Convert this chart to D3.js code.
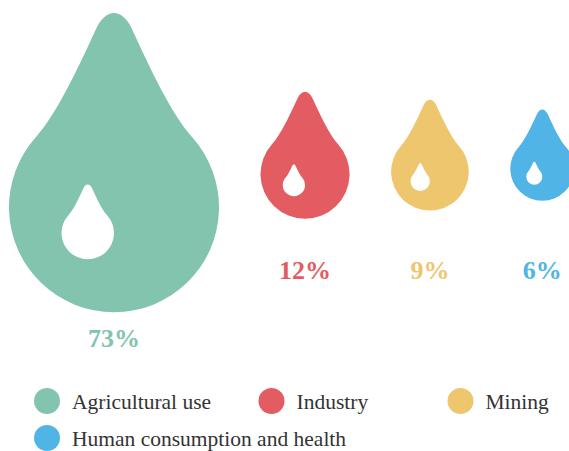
<!DOCTYPE html>
<html>
<head>
<meta charset="utf-8">
<script src="https://cdn.jsdelivr.net/npm/d3@7"></script>
<style>
  html, body { margin: 0; padding: 0; background: #fff; }
  svg { display: block; }
</style>
</head>
<body>
<svg width="569" height="451"></svg>
<script>
// data
const categories = ["Agricultural use", "Industry", "Mining", "Human consumption and health"];
const shares = [73, 12, 9, 6];
const colors = ["#82c4ad", "#e35c61", "#eec66e", "#50b5e6"];

const width = 569,
  height = 451;
const svg = d3.select("svg");

// drop size grows a bit slower than the share
const rScale = d3.scalePow().exponent(0.475).domain([0, d3.max(shares)]).range([0, 105]);

const tipH = 1.86; // tip height above circle centre, in radii
const midY = 155,
  topMin = 12,
  gap = 41.5;

// unit drop: circle of radius 1 at (0,0), tip pointing up
function dropPath() {
  const p = d3.path();
  const px = 0.743, py = -0.669;
  const tx = 0.669, ty = -0.743; // tangent where the side leaves the circle
  const ex = 0.17, ey = -1.70;
  const dx = 0.42, dy = -0.91;
  const k = 0.3, m = 0.4, t = 0.22;
  p.moveTo(-px, py);
  p.bezierCurveTo(-px + k * tx, py + k * ty, -ex - m * dx, ey - m * dy, -ex, ey);
  p.bezierCurveTo(-ex + t * dx, ey + t * dy, ex - t * dx, ey + t * dy, ex, ey);
  p.bezierCurveTo(ex + m * dx, ey - m * dy, px - k * tx, py + k * ty, px, py);
  p.arc(0, 0, 1, Math.atan2(py, px), Math.atan2(py, -px) + 2 * Math.PI, false);
  p.closePath();
  return p.toString();
}
const dropD = dropPath();

// layout
let xCursor = 9;
const drops = shares.map((v, i) => {
  const r = rScale(v);
  const cx = xCursor + r;
  xCursor += 2 * r + gap;
  let cy = midY + ((tipH - 1) / 2) * r;
  const top = cy - tipH * r;
  if (top < topMin) cy += topMin - top;
  return { name: categories[i], value: v, color: colors[i], r, cx, cy };
});

const g = svg
  .selectAll("g.drop")
  .data(drops)
  .enter()
  .append("g")
  .attr("class", "drop");

g.append("path")
  .attr("d", dropD)
  .attr("fill", (d) => d.color)
  .attr("transform", (d) => `translate(${d.cx},${d.cy}) scale(${d.r})`);

g.append("path")
  .attr("d", dropD)
  .attr("fill", "#fff")
  .attr(
    "transform",
    (d) => `translate(${d.cx - 0.25 * d.r},${d.cy + 0.245 * d.r}) scale(${d.r * 0.25})`
  );

g.append("text")
  .attr("x", (d) => d.cx)
  .attr("y", (d) => Math.max(279, d.cy + d.r + 35))
  .attr("text-anchor", "middle")
  .attr("font-family", "'Liberation Serif', 'Times New Roman', serif")
  .attr("font-weight", "bold")
  .attr("font-size", "26px")
  .attr("fill", (d) => d.color)
  .text((d) => d.value + "%");

// legend
const legendCols = [47, 271.5, 460.5];
const legendRows = [401, 438];

const legend = svg
  .selectAll("g.legend-item")
  .data(drops)
  .enter()
  .append("g")
  .attr("class", "legend-item")
  .attr("transform", (d, i) => `translate(${legendCols[i % 3]},${legendRows[Math.floor(i / 3)]})`);

legend.append("circle").attr("r", 13).attr("fill", (d) => d.color);

legend
  .append("text")
  .attr("x", 25)
  .attr("y", 7.5)
  .attr("font-family", "'Liberation Serif', 'Times New Roman', serif")
  .attr("font-size", "21.5px")
  .attr("fill", "#333")
  .text((d) => d.name);
</script>
</body>
</html>
